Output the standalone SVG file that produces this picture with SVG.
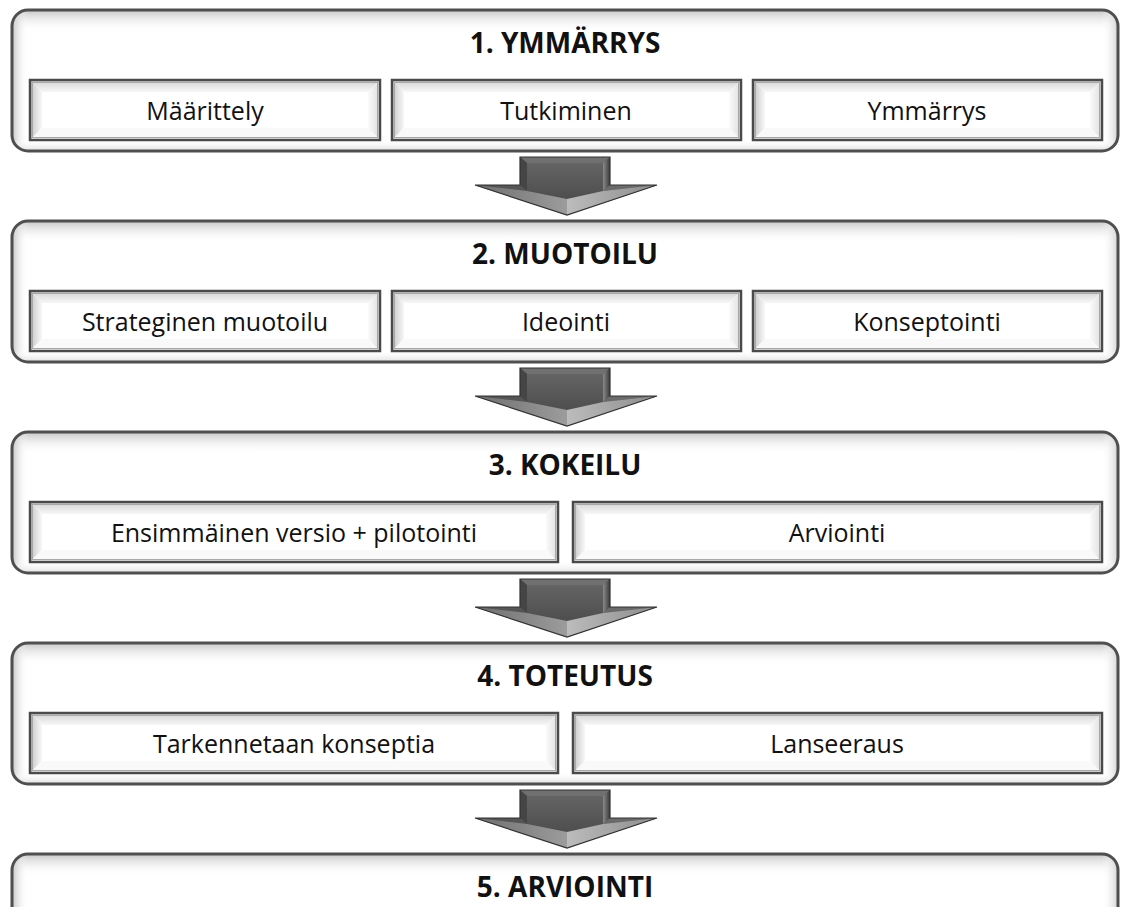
<svg xmlns="http://www.w3.org/2000/svg" xmlns:xlink="http://www.w3.org/1999/xlink" width="1122" height="907" viewBox="0 0 1122 907">
  <style>
    .title { font-family: "Open Sans", "Liberation Sans", sans-serif; font-weight: bold; font-size: 28px; fill: #111; text-anchor: middle; }
    .label { font-family: "Open Sans", "Liberation Sans", sans-serif; font-size: 25px; fill: #111; text-anchor: middle; }
    .frame { fill: none; stroke: #4f4f4f; stroke-width: 3; }
    .box { fill: none; stroke: #4a4a4a; stroke-width: 2.5; }
    .box-in { fill: none; stroke: #a8a8a8; stroke-width: 1; }
    .bt { fill: url(#bvTop); }
    .bl { fill: url(#bvLeft); }
    .br { fill: url(#bvRight); }
    .bb { fill: #f9f9f9; }
  </style>
  <defs>
    <!-- panel shading -->
    <linearGradient id="pTop" x1="0" y1="0" x2="0" y2="1">
      <stop offset="0" stop-color="#c6c6c6"/>
      <stop offset="1" stop-color="#ffffff" stop-opacity="0"/>
    </linearGradient>
    <linearGradient id="pLeft" x1="0" y1="0" x2="1" y2="0">
      <stop offset="0" stop-color="#c4c4c4"/>
      <stop offset="1" stop-color="#ffffff" stop-opacity="0"/>
    </linearGradient>
    <linearGradient id="pRight" x1="0" y1="0" x2="1" y2="0">
      <stop offset="0" stop-color="#ffffff" stop-opacity="0"/>
      <stop offset="1" stop-color="#d2d2d2"/>
    </linearGradient>
    <linearGradient id="pBottom" x1="0" y1="0" x2="0" y2="1">
      <stop offset="0" stop-color="#ffffff" stop-opacity="0"/>
      <stop offset="1" stop-color="#dedede"/>
    </linearGradient>
    <!-- bevel shading for sub-step boxes -->
    <linearGradient id="bvTop" x1="0" y1="0" x2="0" y2="1">
      <stop offset="0" stop-color="#d2d2d2"/>
      <stop offset="1" stop-color="#f7f7f7"/>
    </linearGradient>
    <linearGradient id="bvLeft" x1="0" y1="0" x2="1" y2="0">
      <stop offset="0" stop-color="#c6c6c6"/>
      <stop offset="1" stop-color="#f8f8f8"/>
    </linearGradient>
    <linearGradient id="bvRight" x1="0" y1="0" x2="1" y2="0">
      <stop offset="0" stop-color="#fafafa"/>
      <stop offset="1" stop-color="#dedede"/>
    </linearGradient>
    <!-- arrow shading -->
    <linearGradient id="arFace" x1="0" y1="0" x2="0" y2="1">
      <stop offset="0" stop-color="#646464"/>
      <stop offset="1" stop-color="#4e4e4e"/>
    </linearGradient>
    <linearGradient id="arRightShaft" x1="0" y1="0" x2="1" y2="0">
      <stop offset="0" stop-color="#8a8a8a"/>
      <stop offset="1" stop-color="#3a3a3a"/>
    </linearGradient>
    <linearGradient id="arLowLeft" x1="0" y1="0" x2="1" y2="0">
      <stop offset="0" stop-color="#6e6e6e"/>
      <stop offset="1" stop-color="#9c9c9c"/>
    </linearGradient>
    <linearGradient id="arLowRight" x1="0" y1="0" x2="1" y2="0">
      <stop offset="0" stop-color="#bcbcbc"/>
      <stop offset="1" stop-color="#8c8c8c"/>
    </linearGradient>

    <clipPath id="panelClip">
      <rect x="12" y="0" width="1106" height="141" rx="16"/>
    </clipPath>

    <!-- rounded stage panel, local coordinates -->
    <g id="panel">
      <rect x="12" y="0" width="1106" height="141" rx="16" fill="#ffffff"/>
      <g clip-path="url(#panelClip)">
        <rect x="12" y="0" width="1106" height="22" fill="url(#pTop)"/>
        <rect x="12" y="0" width="16" height="141" fill="url(#pLeft)"/>
        <rect x="1102" y="0" width="16" height="141" fill="url(#pRight)"/>
        <rect x="12" y="129" width="1106" height="12" fill="url(#pBottom)"/>
      </g>
      <rect class="frame" x="12" y="0" width="1106" height="141" rx="16"/>
    </g>

    <!-- bevelled down arrow, local coordinates -->
    <g id="down-arrow">
      <polygon points="520,0 610,0 610,28 657,28 567,58 475,28 520,28" fill="#555"/>
      <polygon points="527,6 603,6 603,34 567,42 527,34" fill="url(#arFace)"/>
      <polygon points="520,0 610,0 603,6 527,6" fill="#707070"/>
      <polygon points="520,0 527,6 527,34 520,28" fill="#454545"/>
      <polygon points="610,0 610,28 603,34 603,6" fill="url(#arRightShaft)"/>
      <polygon points="520,28 527,34 475,28" fill="#555"/>
      <polygon points="610,28 657,28 603,34" fill="#6a6a6a"/>
      <polygon points="475,28 527,34 567,42 567,58" fill="url(#arLowLeft)"/>
      <polygon points="567,42 603,34 657,28 567,58" fill="url(#arLowRight)"/>
      <polygon points="520,0 610,0 610,28 657,28 567,58 475,28 520,28" fill="none" stroke="#333" stroke-width="1.2"/>
    </g>
  </defs>

  <!-- connectors between stages -->
  <g id="connectors">
    <use xlink:href="#down-arrow" href="#down-arrow" transform="translate(0,157)"/>
    <use xlink:href="#down-arrow" href="#down-arrow" transform="translate(0,368)"/>
    <use xlink:href="#down-arrow" href="#down-arrow" transform="translate(0,579)"/>
    <use xlink:href="#down-arrow" href="#down-arrow" transform="translate(0,790)"/>
  </g>

  <!-- stage 1 -->
  <g id="stage-1" transform="translate(0,10)">
    <use xlink:href="#panel" href="#panel"/>
    <text class="title" x="565" y="43">1. YMMÄRRYS</text>
    <g id="stage-1-a">
      <polygon class="bt" points="30,70 380,70 368,82 42,82"/>
      <polygon class="bl" points="30,70 42,82 42,118 30,130"/>
      <polygon class="br" points="380,70 380,130 368,118 368,82"/>
      <polygon class="bb" points="30,130 380,130 368,118 42,118"/>
      <rect class="box-in" x="32.5" y="72.5" width="345" height="55"/>
      <rect class="box" x="30" y="70" width="350" height="60"/>
      <text class="label" x="205" y="110">Määrittely</text>
    </g>
    <g id="stage-1-b">
      <polygon class="bt" points="392,70 741,70 729,82 404,82"/>
      <polygon class="bl" points="392,70 404,82 404,118 392,130"/>
      <polygon class="br" points="741,70 741,130 729,118 729,82"/>
      <polygon class="bb" points="392,130 741,130 729,118 404,118"/>
      <rect class="box-in" x="394.5" y="72.5" width="344" height="55"/>
      <rect class="box" x="392" y="70" width="349" height="60"/>
      <text class="label" x="566" y="110">Tutkiminen</text>
    </g>
    <g id="stage-1-c">
      <polygon class="bt" points="753,70 1102,70 1090,82 765,82"/>
      <polygon class="bl" points="753,70 765,82 765,118 753,130"/>
      <polygon class="br" points="1102,70 1102,130 1090,118 1090,82"/>
      <polygon class="bb" points="753,130 1102,130 1090,118 765,118"/>
      <rect class="box-in" x="755.5" y="72.5" width="344" height="55"/>
      <rect class="box" x="753" y="70" width="349" height="60"/>
      <text class="label" x="927" y="110">Ymmärrys</text>
    </g>
  </g>

  <!-- stage 2 -->
  <g id="stage-2" transform="translate(0,221)">
    <use xlink:href="#panel" href="#panel"/>
    <text class="title" x="565" y="43">2. MUOTOILU</text>
    <g id="stage-2-a">
      <polygon class="bt" points="30,70 380,70 368,82 42,82"/>
      <polygon class="bl" points="30,70 42,82 42,118 30,130"/>
      <polygon class="br" points="380,70 380,130 368,118 368,82"/>
      <polygon class="bb" points="30,130 380,130 368,118 42,118"/>
      <rect class="box-in" x="32.5" y="72.5" width="345" height="55"/>
      <rect class="box" x="30" y="70" width="350" height="60"/>
      <text class="label" x="205" y="110">Strateginen muotoilu</text>
    </g>
    <g id="stage-2-b">
      <polygon class="bt" points="392,70 741,70 729,82 404,82"/>
      <polygon class="bl" points="392,70 404,82 404,118 392,130"/>
      <polygon class="br" points="741,70 741,130 729,118 729,82"/>
      <polygon class="bb" points="392,130 741,130 729,118 404,118"/>
      <rect class="box-in" x="394.5" y="72.5" width="344" height="55"/>
      <rect class="box" x="392" y="70" width="349" height="60"/>
      <text class="label" x="566" y="110">Ideointi</text>
    </g>
    <g id="stage-2-c">
      <polygon class="bt" points="753,70 1102,70 1090,82 765,82"/>
      <polygon class="bl" points="753,70 765,82 765,118 753,130"/>
      <polygon class="br" points="1102,70 1102,130 1090,118 1090,82"/>
      <polygon class="bb" points="753,130 1102,130 1090,118 765,118"/>
      <rect class="box-in" x="755.5" y="72.5" width="344" height="55"/>
      <rect class="box" x="753" y="70" width="349" height="60"/>
      <text class="label" x="927" y="110">Konseptointi</text>
    </g>
  </g>

  <!-- stage 3 -->
  <g id="stage-3" transform="translate(0,432)">
    <use xlink:href="#panel" href="#panel"/>
    <text class="title" x="565" y="43">3. KOKEILU</text>
    <g id="stage-3-a">
      <polygon class="bt" points="30,70 558,70 546,82 42,82"/>
      <polygon class="bl" points="30,70 42,82 42,118 30,130"/>
      <polygon class="br" points="558,70 558,130 546,118 546,82"/>
      <polygon class="bb" points="30,130 558,130 546,118 42,118"/>
      <rect class="box-in" x="32.5" y="72.5" width="523" height="55"/>
      <rect class="box" x="30" y="70" width="528" height="60"/>
      <text class="label" x="294" y="110">Ensimmäinen versio + pilotointi</text>
    </g>
    <g id="stage-3-b">
      <polygon class="bt" points="573,70 1102,70 1090,82 585,82"/>
      <polygon class="bl" points="573,70 585,82 585,118 573,130"/>
      <polygon class="br" points="1102,70 1102,130 1090,118 1090,82"/>
      <polygon class="bb" points="573,130 1102,130 1090,118 585,118"/>
      <rect class="box-in" x="575.5" y="72.5" width="524" height="55"/>
      <rect class="box" x="573" y="70" width="529" height="60"/>
      <text class="label" x="837" y="110">Arviointi</text>
    </g>
  </g>

  <!-- stage 4 -->
  <g id="stage-4" transform="translate(0,643)">
    <use xlink:href="#panel" href="#panel"/>
    <text class="title" x="565" y="43">4. TOTEUTUS</text>
    <g id="stage-4-a">
      <polygon class="bt" points="30,70 558,70 546,82 42,82"/>
      <polygon class="bl" points="30,70 42,82 42,118 30,130"/>
      <polygon class="br" points="558,70 558,130 546,118 546,82"/>
      <polygon class="bb" points="30,130 558,130 546,118 42,118"/>
      <rect class="box-in" x="32.5" y="72.5" width="523" height="55"/>
      <rect class="box" x="30" y="70" width="528" height="60"/>
      <text class="label" x="294" y="110">Tarkennetaan konseptia</text>
    </g>
    <g id="stage-4-b">
      <polygon class="bt" points="573,70 1102,70 1090,82 585,82"/>
      <polygon class="bl" points="573,70 585,82 585,118 573,130"/>
      <polygon class="br" points="1102,70 1102,130 1090,118 1090,82"/>
      <polygon class="bb" points="573,130 1102,130 1090,118 585,118"/>
      <rect class="box-in" x="575.5" y="72.5" width="524" height="55"/>
      <rect class="box" x="573" y="70" width="529" height="60"/>
      <text class="label" x="837" y="110">Lanseeraus</text>
    </g>
  </g>

  <!-- stage 5 (continues past the lower edge) -->
  <g id="stage-5" transform="translate(0,854)">
    <use xlink:href="#panel" href="#panel"/>
    <text class="title" x="565" y="43">5. ARVIOINTI</text>
  </g>
</svg>
